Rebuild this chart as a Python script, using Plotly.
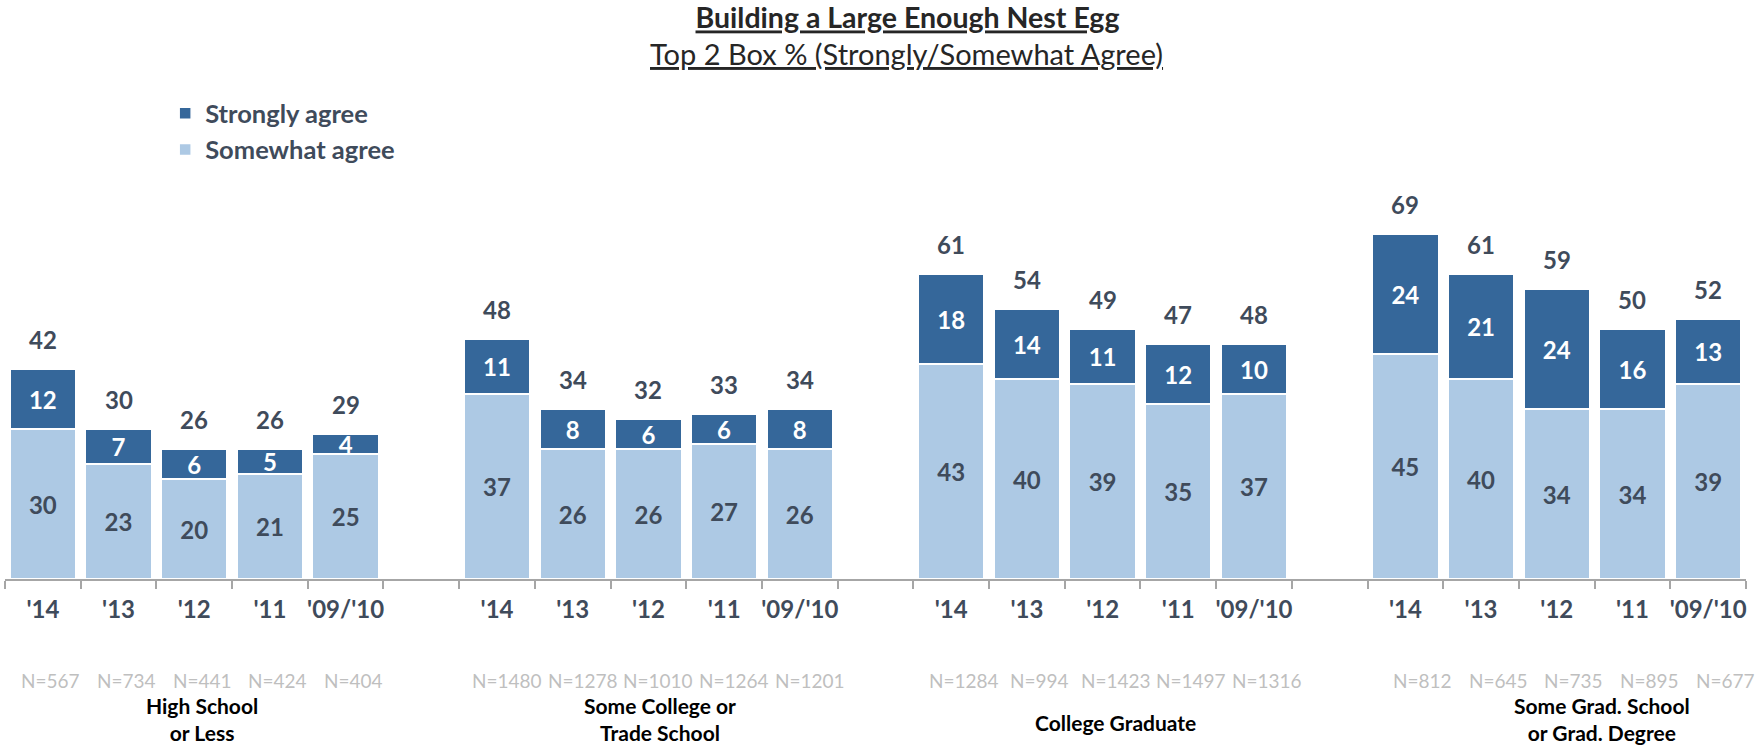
import plotly.graph_objects as go

# ---------------- data ----------------
group_names = ["High School<br>or Less", "Some College or<br>Trade School",
               "College Graduate", "Some Grad. School<br>or Grad. Degree"]
years = ["'14", "'13", "'12", "'11", "'09/'10"]

# Somewhat agree (bottom segment), per group in year order
somewhat_hs = [30, 23, 20, 21, 25]
somewhat_sc = [37, 26, 26, 27, 26]
somewhat_cg = [43, 40, 39, 35, 37]
somewhat_gd = [45, 40, 34, 34, 39]

# Strongly agree (top segment)
strongly_hs = [12, 7, 6, 5, 4]
strongly_sc = [11, 8, 6, 6, 8]
strongly_cg = [18, 14, 11, 12, 10]
strongly_gd = [24, 21, 24, 16, 13]

# Top 2 box totals (as printed)
total_hs = [42, 30, 26, 26, 29]
total_sc = [48, 34, 32, 33, 34]
total_cg = [61, 54, 49, 47, 48]
total_gd = [69, 61, 59, 50, 52]

# Sample sizes
n_hs = [567, 734, 441, 424, 404]
n_sc = [1480, 1278, 1010, 1264, 1201]
n_cg = [1284, 994, 1423, 1497, 1316]
n_gd = [812, 645, 735, 895, 677]

# ---------------- styling ----------------
FONT = "Lato"
DARK = "#35679A"
LIGHT = "#ADC9E4"
TXT = "#3F4B5B"
AXIS = "#A6A6A6"
NGREY = "#BFBFBF"

somewhat = somewhat_hs + somewhat_sc + somewhat_cg + somewhat_gd
strongly = strongly_hs + strongly_sc + strongly_cg + strongly_gd
totals = total_hs + total_sc + total_cg + total_gd
ns = n_hs + n_sc + n_cg + n_gd
ngroups = 4
nyears = len(years)
pos = [g * (nyears + 1) + i for g in range(ngroups) for i in range(nyears)]
year_labels = years * ngroups

fig = go.Figure()
fig.add_bar(
    x=pos, y=somewhat, name="Somewhat agree", width=0.87,
    marker=dict(color=LIGHT, line=dict(color="white", width=1.5)),
    text=somewhat, textposition="inside", insidetextanchor="middle",
    textangle=0, constraintext="none",
    textfont=dict(family=FONT, size=24, color=TXT, weight="bold"),
    hoverinfo="skip",
)
fig.add_bar(
    x=pos, y=strongly, name="Strongly agree", width=0.87,
    marker=dict(color=DARK, line=dict(color="white", width=1.5)),
    text=strongly, textposition="inside", insidetextanchor="middle",
    textangle=0, constraintext="none",
    textfont=dict(family=FONT, size=24, color="white", weight="bold"),
    hoverinfo="skip",
)

annotations = []
# totals above the stacks
for x, a, b, t in zip(pos, somewhat, strongly, totals):
    annotations.append(dict(
        x=x, y=a + b, xref="x", yref="y", text=str(t), showarrow=False,
        yanchor="bottom", yshift=13,
        font=dict(family=FONT, size=24, color=TXT, weight="bold"),
    ))

# N= labels
n_shift = [8, 10, 13, 17]
for k, (x, n) in enumerate(zip(pos, ns)):
    annotations.append(dict(
        x=x, y=-0.2525, xref="x", yref="paper", text=f"N={n}", showarrow=False,
        xshift=n_shift[k // nyears], yanchor="middle",
        font=dict(family=FONT, size=19, color=NGREY),
    ))

# group labels
g_shift = [8, 12, 13, 45]
g_y = [-0.35, -0.35, -0.3575, -0.35]
for g in range(ngroups):
    cx = g * (nyears + 1) + (nyears - 1) / 2
    annotations.append(dict(
        x=cx, y=g_y[g], xref="x", yref="paper", text=group_names[g],
        showarrow=False, xshift=g_shift[g], yanchor="middle",
        font=dict(family=FONT, size=21, color="#000000", weight="bold"),
    ))

# subtitle
annotations.append(dict(
    x=0.518, y=1.315, xref="paper", yref="paper",
    text="Top 2 Box % (Strongly/Somewhat Agree)", showarrow=False,
    xanchor="center", yanchor="middle",
    font=dict(family=FONT, size=29, color="#262626", lineposition="under"),
))

bounds = [k - 0.5 for k in range(ngroups * (nyears + 1))]

fig.update_layout(
    width=1757, height=746,
    margin=dict(l=5, r=11, t=179, b=167),
    paper_bgcolor="white", plot_bgcolor="white",
    barmode="stack",
    title=dict(
        text="Building a Large Enough Nest Egg",
        x=0.5165, xanchor="center", xref="container",
        y=1 - 18.5 / 746, yanchor="middle", yref="container",
        font=dict(family=FONT, size=28.5, color="#262626", weight="bold",
                  lineposition="under"),
    ),
    legend=dict(
        x=0.092, y=1.222, xanchor="left", yanchor="top",
        traceorder="reversed", bgcolor="rgba(0,0,0,0)",
        font=dict(family=FONT, size=25.5, color=TXT, weight="bold"),
    ),
    xaxis=dict(
        range=[-0.5, ngroups * (nyears + 1) - 1.5],
        tickmode="array", tickvals=pos, ticktext=year_labels,
        ticks="", showline=True, linecolor=AXIS, linewidth=2,
        showgrid=False, zeroline=False, ticklabelstandoff=8,
        tickfont=dict(family=FONT, size=24, color=TXT, weight="bold"),
        minor=dict(tickmode="array", tickvals=bounds, ticks="outside",
                   ticklen=8, tickwidth=2, tickcolor=AXIS, showgrid=False),
    ),
    yaxis=dict(range=[0, 80], visible=False),
    annotations=annotations,
    showlegend=True,
)

fig.write_html(
    "out.html",
    config={"displayModeBar": False},
    post_script="document.body.style.margin='0px';document.body.style.overflow='hidden';",
)
